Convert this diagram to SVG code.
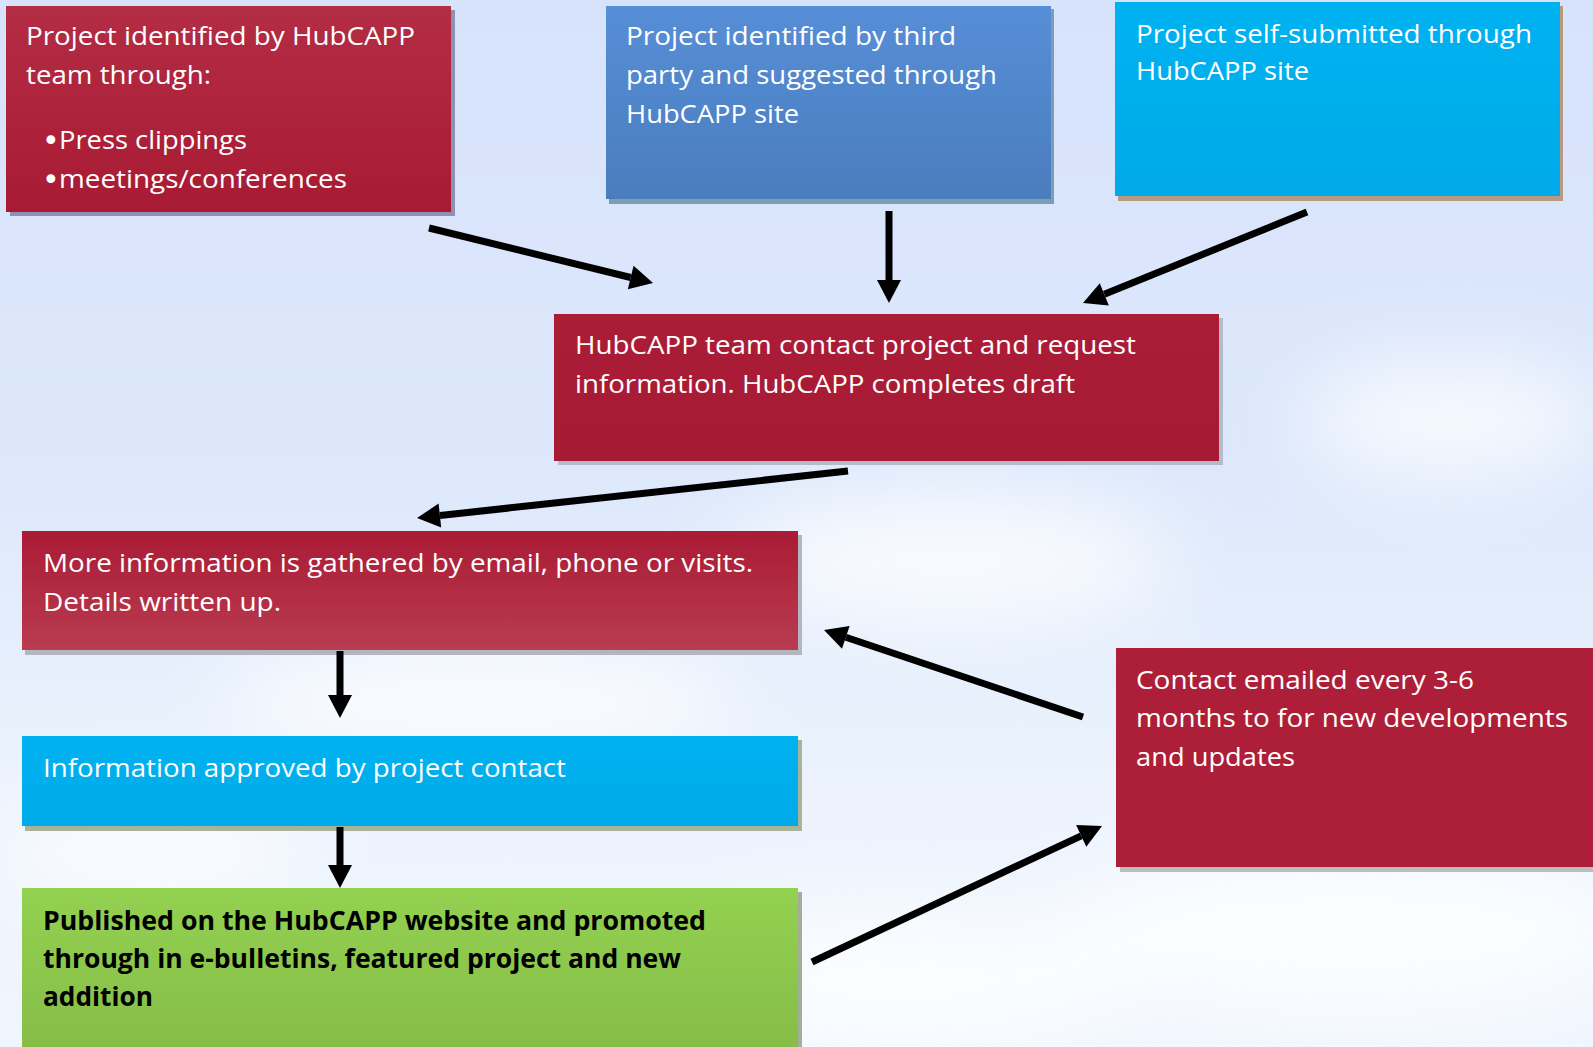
<svg xmlns="http://www.w3.org/2000/svg" width="1593" height="1047" viewBox="0 0 1593 1047">
  <style>
    .t { font-family: "Open Sans", "Noto Sans", "Liberation Sans", sans-serif; font-size: 26px; fill: #ffffff; }
    .bul { font-family: "DejaVu Sans", sans-serif; font-size: 30px; fill: #ffffff; }
    .tb { font-family: "Open Sans", "Noto Sans", "Liberation Sans", sans-serif; font-size: 27px; font-weight: bold; fill: #000000; }
    .conn { stroke: #000000; stroke-width: 7; fill: none; }
  </style>
  <defs>
    <linearGradient id="bg" x1="0" y1="0" x2="0" y2="1">
      <stop offset="0" stop-color="#d7e3fb"/>
      <stop offset="0.45" stop-color="#dde8fb"/>
      <stop offset="0.75" stop-color="#ecf3fd"/>
      <stop offset="1" stop-color="#f0f6fe"/>
    </linearGradient>
    <filter id="blur" x="-50%" y="-50%" width="200%" height="200%">
      <feGaussianBlur stdDeviation="40"/>
    </filter>
    <linearGradient id="redA" x1="0" y1="0" x2="0" y2="1">
      <stop offset="0" stop-color="#b32d44"/>
      <stop offset="1" stop-color="#a81a33"/>
    </linearGradient>
    <linearGradient id="redB" x1="0" y1="0" x2="0" y2="1">
      <stop offset="0" stop-color="#aa1b35"/>
      <stop offset="1" stop-color="#b93c51"/>
    </linearGradient>
    <linearGradient id="redC" x1="0" y1="0" x2="0" y2="1">
      <stop offset="0" stop-color="#ab1d37"/>
      <stop offset="1" stop-color="#a71a33"/>
    </linearGradient>
    <linearGradient id="blue" x1="0" y1="0" x2="0" y2="1">
      <stop offset="0" stop-color="#568ed7"/>
      <stop offset="1" stop-color="#4a7dbd"/>
    </linearGradient>
    <linearGradient id="cyan" x1="0" y1="0" x2="0" y2="1">
      <stop offset="0" stop-color="#00b2f1"/>
      <stop offset="1" stop-color="#00aae8"/>
    </linearGradient>
    <linearGradient id="green" x1="0" y1="0" x2="0" y2="1">
      <stop offset="0" stop-color="#93d151"/>
      <stop offset="1" stop-color="#86bd47"/>
    </linearGradient>
    <marker id="head" markerUnits="userSpaceOnUse" markerWidth="26" markerHeight="28" refX="0" refY="13" orient="auto" overflow="visible">
      <path d="M0,1 L23,13 L0,25 z" fill="#000000"/>
    </marker>
  </defs>

  <!-- background sky -->
  <rect x="0" y="0" width="1593" height="1047" fill="url(#bg)"/>
  <g filter="url(#blur)" fill="#ffffff" opacity="0.75">
    <ellipse cx="480" cy="700" rx="260" ry="60"/>
    <ellipse cx="950" cy="560" rx="220" ry="70"/>
    <ellipse cx="1350" cy="930" rx="300" ry="90"/>
    <ellipse cx="900" cy="980" rx="250" ry="70"/>
    <ellipse cx="150" cy="850" rx="160" ry="50"/>
    <ellipse cx="1450" cy="420" rx="150" ry="60"/>
  </g>

  <!-- nodes -->
  <g id="node-hubcapp-team">
    <rect x="10" y="10" width="445" height="206" fill="#8e91b1"/>
    <rect x="6" y="6" width="445" height="206" fill="url(#redA)"/>
    <text class="t" x="26" y="45" textLength="389" lengthAdjust="spacingAndGlyphs">Project identified by HubCAPP</text>
    <text class="t" x="26" y="84" textLength="185" lengthAdjust="spacingAndGlyphs">team through:</text>
    <text class="bul" x="42" y="151">•</text>
    <text class="t" x="59" y="149" textLength="188" lengthAdjust="spacingAndGlyphs">Press clippings</text>
    <text class="bul" x="42" y="190">•</text>
    <text class="t" x="59" y="188" textLength="288" lengthAdjust="spacingAndGlyphs">meetings/conferences</text>
  </g>

  <g id="node-third-party">
    <rect x="609" y="9" width="445" height="195" fill="#7d9db6"/>
    <rect x="606" y="6" width="445" height="193" fill="url(#blue)"/>
    <text class="t" x="626" y="45" textLength="330" lengthAdjust="spacingAndGlyphs">Project identified by third</text>
    <text class="t" x="626" y="84" textLength="371" lengthAdjust="spacingAndGlyphs">party and suggested through</text>
    <text class="t" x="626" y="123" textLength="173" lengthAdjust="spacingAndGlyphs">HubCAPP site</text>
  </g>

  <g id="node-self-submitted">
    <rect x="1118" y="6" width="445" height="195" fill="#b99a80"/>
    <rect x="1115" y="2" width="445" height="194" fill="url(#cyan)"/>
    <text class="t" x="1136" y="43" textLength="396" lengthAdjust="spacingAndGlyphs">Project self-submitted through</text>
    <text class="t" x="1136" y="80" textLength="173" lengthAdjust="spacingAndGlyphs">HubCAPP site</text>
  </g>

  <g id="node-contact-request">
    <rect x="558" y="318" width="665" height="147" fill="#b3bccb"/>
    <rect x="554" y="314" width="665" height="147" fill="url(#redC)"/>
    <text class="t" x="575" y="354" textLength="561" lengthAdjust="spacingAndGlyphs">HubCAPP team contact project and request</text>
    <text class="t" x="575" y="393" textLength="500" lengthAdjust="spacingAndGlyphs">information. HubCAPP completes draft</text>
  </g>

  <g id="node-more-info">
    <rect x="25" y="535" width="777" height="120" fill="#b3b6be"/>
    <rect x="22" y="531" width="776" height="119" fill="url(#redB)"/>
    <text class="t" x="43" y="572" textLength="710" lengthAdjust="spacingAndGlyphs">More information is gathered by email, phone or visits.</text>
    <text class="t" x="43" y="611" textLength="238" lengthAdjust="spacingAndGlyphs">Details written up.</text>
  </g>

  <g id="node-approved">
    <rect x="25" y="740" width="777" height="91" fill="#a8b39c"/>
    <rect x="22" y="736" width="776" height="90" fill="url(#cyan)"/>
    <text class="t" x="43" y="777" textLength="523" lengthAdjust="spacingAndGlyphs">Information approved by project contact</text>
  </g>

  <g id="node-published">
    <rect x="25" y="892" width="777" height="160" fill="#a3ad9c"/>
    <rect x="22" y="888" width="776" height="160" fill="url(#green)"/>
    <text class="tb" x="43" y="930" textLength="663" lengthAdjust="spacingAndGlyphs">Published on the HubCAPP website and promoted</text>
    <text class="tb" x="43" y="968" textLength="638" lengthAdjust="spacingAndGlyphs">through in e-bulletins, featured project and new</text>
    <text class="tb" x="43" y="1006" textLength="110" lengthAdjust="spacingAndGlyphs">addition</text>
  </g>

  <g id="node-contact-emailed">
    <rect x="1120" y="652" width="480" height="220" fill="#bdbdbd"/>
    <rect x="1116" y="648" width="480" height="219" fill="#ad1f38"/>
    <text class="t" x="1136" y="689" textLength="338" lengthAdjust="spacingAndGlyphs">Contact emailed every 3-6</text>
    <text class="t" x="1136" y="727" textLength="432" lengthAdjust="spacingAndGlyphs">months to for new developments</text>
    <text class="t" x="1136" y="766" textLength="159" lengthAdjust="spacingAndGlyphs">and updates</text>
  </g>

  <!-- connectors -->
  <g id="connectors">
    <line class="conn" x1="429" y1="228" x2="630.7" y2="277.5" marker-end="url(#head)"/>
    <line class="conn" x1="889" y1="211" x2="889" y2="280" marker-end="url(#head)"/>
    <line class="conn" x1="1307" y1="212" x2="1104.3" y2="294.3" marker-end="url(#head)"/>
    <line class="conn" x1="848" y1="471" x2="439.9" y2="515.5" marker-end="url(#head)"/>
    <line class="conn" x1="340" y1="651" x2="340" y2="695" marker-end="url(#head)"/>
    <line class="conn" x1="340" y1="827" x2="340" y2="865" marker-end="url(#head)"/>
    <line class="conn" x1="812" y1="962" x2="1081.2" y2="835.8" marker-end="url(#head)"/>
    <line class="conn" x1="1083" y1="717" x2="845.8" y2="637.3" marker-end="url(#head)"/>
  </g>
</svg>
